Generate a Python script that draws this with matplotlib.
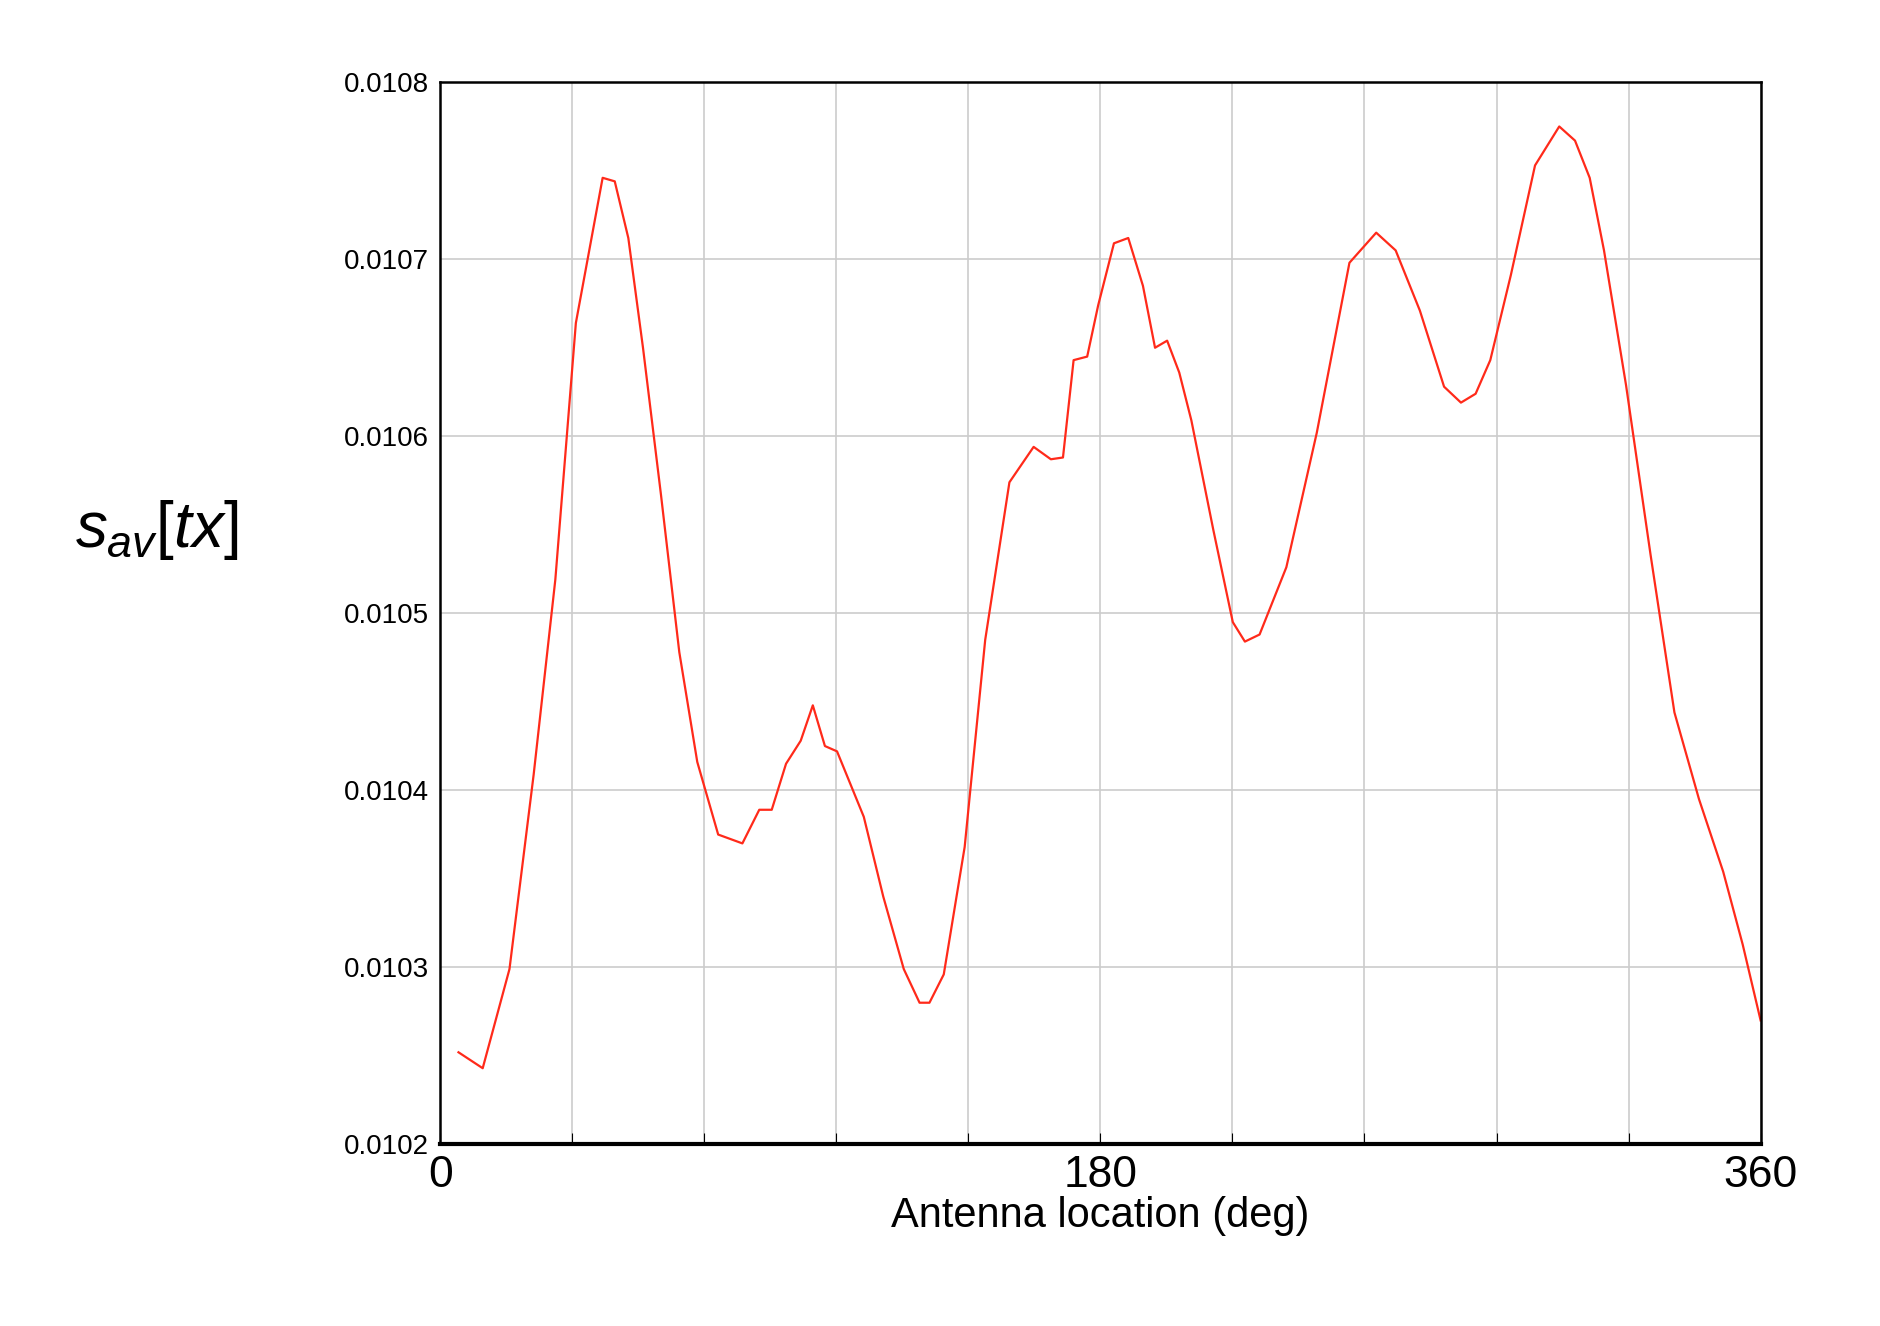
import matplotlib
matplotlib.use("Agg")
import matplotlib.pyplot as plt
import numpy as np

plt.rcParams['font.family'] = ['Liberation Sans', 'DejaVu Sans']
plt.rcParams['mathtext.fontset'] = 'custom'
plt.rcParams['mathtext.rm'] = 'Liberation Sans'
plt.rcParams['mathtext.it'] = 'Liberation Sans:italic'

angle_deg = [5, 11.6, 18.9, 25.5, 31.4, 37, 44.3, 47.6, 51.3, 55.3, 60.2, 65.2, 70.1, 75.8, 82.4, 87, 90.4,
             94.3, 98.3, 101.6, 104.9, 108.2, 115.5, 120.8, 126.4, 130.7, 133.4, 137.3, 143, 148.6, 155.2,
             161.8, 166.5, 169.8, 172.7, 176.4, 179.4, 183.7, 187.6, 191.6, 194.9, 198.2, 201.5, 204.8,
             210.8, 216.1, 219.4, 223.4, 230.7, 239, 247.9, 255.2, 260.5, 267.1, 273.7, 278.3, 282.3,
             286.3, 291.9, 298.5, 305.1, 309.4, 313.4, 317.3, 323.3, 330, 336.5, 343.2, 349.8, 355.1, 360]
s_av = [0.010252, 0.010243, 0.010299, 0.010409, 0.010519, 0.010664, 0.010746, 0.010744, 0.010712, 0.01065,
        0.010567, 0.010478, 0.010416, 0.010375, 0.01037, 0.010389, 0.010389, 0.010415, 0.010428, 0.010448,
        0.010425, 0.010422, 0.010385, 0.01034, 0.010299, 0.01028, 0.01028, 0.010296, 0.010368, 0.010485,
        0.010574, 0.010594, 0.010587, 0.010588, 0.010643, 0.010645, 0.010674, 0.010709, 0.010712, 0.010685,
        0.01065, 0.010654, 0.010636, 0.010609, 0.010547, 0.010495, 0.010484, 0.010488, 0.010526, 0.010602,
        0.010698, 0.010715, 0.010705, 0.010671, 0.010628, 0.010619, 0.010624, 0.010643, 0.010691, 0.010753,
        0.010775, 0.010767, 0.010746, 0.010705, 0.010629, 0.010533, 0.010444, 0.010395, 0.010354, 0.010313,
        0.01027]
y_ticks = [0.0102, 0.0103, 0.0104, 0.0105, 0.0106, 0.0107, 0.0108]
x_grid = list(range(0, 361, 36))
x_labeled = [0, 180, 360]

fig = plt.figure(figsize=(18.81, 13.26), dpi=100)
ax = fig.add_axes([0.234, 0.137, 0.702, 0.801])
ax.plot(angle_deg, s_av, color="#ff2a1a", lw=1.6)
ax.set_xlim(0, 360)
ax.set_ylim(0.0102, 0.0108)
ax.set_yticks(y_ticks)
ax.set_yticklabels([f"{v:.4f}" for v in y_ticks], fontsize=20)
ax.set_xticks(x_grid)
ax.set_xticklabels([str(v) if v in x_labeled else "" for v in x_grid], fontsize=32)
ax.tick_params(axis="y", length=0, pad=8)
ax.tick_params(axis="x", length=8, direction="in", pad=8)
ax.grid(True, color="#cccccc", lw=1.2)
for s in ax.spines.values():
    s.set_linewidth(1.8)
ax.spines["bottom"].set_linewidth(3)
ax.set_xlabel("Antenna location (deg)", fontsize=30, labelpad=0)
fig.text(0.04, 0.60, r"$s_{av}[tx]$", fontsize=46, va="center", ha="left")
fig.savefig("out.png", dpi=100, facecolor="white")
